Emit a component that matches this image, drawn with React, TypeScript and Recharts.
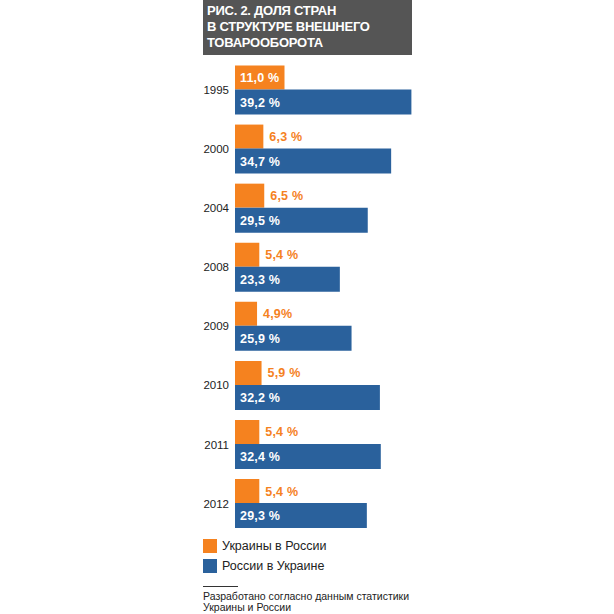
import { Bar, BarChart, LabelList, XAxis, YAxis } from "recharts";

const ORANGE = "#f5821f";
const BLUE = "#2a619c";

const years = ["1995", "2000", "2004", "2008", "2009", "2010", "2011", "2012"];
const ukrInRus = [11.0, 6.3, 6.5, 5.4, 4.9, 5.9, 5.4, 5.4];
const rusInUkr = [39.2, 34.7, 29.5, 23.3, 25.9, 32.2, 32.4, 29.3];
const ukrLabels = ["11,0 %", "6,3 %", "6,5 %", "5,4 %", "4,9%", "5,9 %", "5,4 %", "5,4 %"];
const rusLabels = ["39,2 %", "34,7 %", "29,5 %", "23,3 %", "25,9 %", "32,2 %", "32,4 %", "29,3 %"];
const seriesNames = ["Украины в России", "России в Украине"];
const titleLines = ["РИС. 2. ДОЛЯ СТРАН", "В СТРУКТУРЕ ВНЕШНЕГО", "ТОВАРООБОРОТА"];
const source = ["Разработано согласно данным статистики", "Украины и России"];

const data = years.map((y, i) => ({
  year: y,
  ukr: ukrInRus[i],
  rus: rusInUkr[i],
  ukrLabel: ukrLabels[i],
  rusLabel: rusLabels[i],
}));

const FONT = "'Liberation Sans', Arial, sans-serif";

function OrangeLabel(props: any) {
  const { x, y, width, height, value } = props;
  const inside = width > 40;
  return (
    <text
      x={inside ? x + 5 : x + width + 6}
      y={y + height / 2 + 0.5}
      dominantBaseline="central"
      fill={inside ? "#fff" : ORANGE}
      fontSize={12.5}
      fontWeight={700}
      letterSpacing={0.2}
      fontFamily={FONT}
    >
      {value}
    </text>
  );
}

function BlueLabel(props: any) {
  const { x, y, height, value } = props;
  return (
    <text
      x={x + 5}
      y={y + height / 2 + 0.5}
      dominantBaseline="central"
      fill="#fff"
      fontSize={12.5}
      fontWeight={700}
      letterSpacing={0.2}
      fontFamily={FONT}
    >
      {value}
    </text>
  );
}

export default function App() {
  return (
    <div
      style={{
        position: "absolute",
        left: 0,
        top: 0,
        width: 614,
        height: 614,
        background: "#fff",
        fontFamily: FONT,
        overflow: "hidden",
      }}
    >
      <div
        style={{
          position: "absolute",
          left: 203,
          top: 0,
          width: 209,
          height: 55,
          background: "#555555",
          color: "#fff",
          fontWeight: 700,
          fontSize: 13,
          lineHeight: "16px",
          letterSpacing: -0.25,
          padding: "3px 0 0 4px",
          boxSizing: "border-box",
        }}
      >
        {titleLines.map((l) => (
          <div key={l}>{l}</div>
        ))}
      </div>

      <div style={{ position: "absolute", left: 0, top: 0 }}>
        <BarChart
          width={420}
          height={540}
          data={data}
          layout="vertical"
          barGap={0}
          margin={{ top: 60.5, right: 5, bottom: 6.9, left: 0 }}
        >
          <XAxis type="number" domain={[0, 40]} hide />
          <YAxis
            type="category"
            dataKey="year"
            width={235}
            axisLine={false}
            tickLine={false}
            tickSize={0}
            tickMargin={6}
            tick={{ fontSize: 11.5, fill: "#222", fontFamily: FONT }}
          />
          <Bar dataKey="ukr" fill={ORANGE} barSize={24} isAnimationActive={false}>
            <LabelList dataKey="ukrLabel" content={<OrangeLabel />} />
          </Bar>
          <Bar dataKey="rus" fill={BLUE} barSize={25} isAnimationActive={false}>
            <LabelList dataKey="rusLabel" content={<BlueLabel />} />
          </Bar>
        </BarChart>
      </div>

      {seriesNames.map((n, i) => (
        <div
          key={n}
          style={{
            position: "absolute",
            left: 203,
            top: 539 + i * 20,
            height: 14,
            display: "flex",
            alignItems: "center",
            fontSize: 12.5,
            color: "#222",
          }}
        >
          <span
            style={{
              display: "inline-block",
              width: 14,
              height: 14,
              background: i === 0 ? ORANGE : BLUE,
              marginRight: 5,
            }}
          />
          {n}
        </div>
      ))}

      <div
        style={{
          position: "absolute",
          left: 203,
          top: 586,
          width: 35,
          height: 1,
          background: "#333",
        }}
      />
      <div
        style={{
          position: "absolute",
          left: 203,
          top: 591,
          fontSize: 10.5,
          lineHeight: "10.5px",
          color: "#222",
        }}
      >
        {source.map((s) => (
          <div key={s}>{s}</div>
        ))}
      </div>
    </div>
  );
}
